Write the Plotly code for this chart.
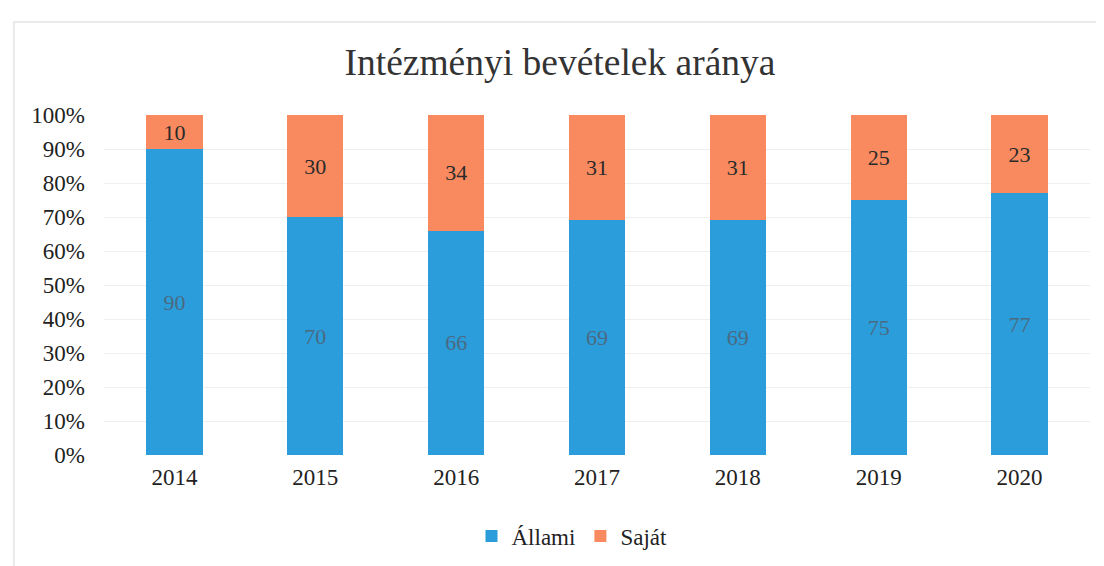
import plotly.graph_objects as go

years = ["2014", "2015", "2016", "2017", "2018", "2019", "2020"]
allami = [90, 70, 66, 69, 69, 75, 77]
sajat = [10, 30, 34, 31, 31, 25, 23]

W, H = 1104, 566
L, R, T, B = 96, 22, 107, 119
pw, ph = W - L - R, H - T - B

def px_x(p):
    return (p - L) / pw

def px_y(p):
    return (H - B - p) / ph

fig = go.Figure()
fig.add_trace(go.Bar(
    x=years, y=allami, name="Állami",
    marker=dict(color="#2b9ddb", line=dict(width=0)),
    text=[str(v) for v in allami], textposition="inside", insidetextanchor="middle",
    textfont=dict(family="Liberation Serif", size=22, color="#4a6a82"),
))
fig.add_trace(go.Bar(
    x=years, y=sajat, name="Saját",
    marker=dict(color="#f98a60", line=dict(width=0)),
    text=[str(v) for v in sajat], textposition="inside", insidetextanchor="middle",
    textfont=dict(family="Liberation Serif", size=22, color="#2a2a2a"),
))

fig.update_layout(
    barmode="stack",
    bargap=0.6,
    width=W, height=H,
    margin=dict(l=L, r=R, t=T, b=B),
    paper_bgcolor="white", plot_bgcolor="white",
    font=dict(family="Liberation Serif", size=23, color="#222222"),
    title=dict(text="Intézményi bevételek aránya", x=0.5, xref="container", xanchor="center",
               y=1 - 54 / H, yanchor="middle",
               font=dict(family="Liberation Serif", size=37.5, color="#333333")),
    legend=dict(orientation="h", x=px_x(564), xanchor="center", y=px_y(528), yanchor="middle",
                font=dict(family="Liberation Serif", size=23, color="#222222"),
                itemwidth=30, traceorder="normal"),
    uniformtext=dict(mode=False),
    shapes=[dict(type="rect", xref="paper", yref="paper",
                 x0=px_x(6), x1=px_x(1110), y0=px_y(14), y1=px_y(580),
                 line=dict(color="#e3e3e3", width=1.5), layer="below")],
)
fig.update_xaxes(showgrid=False, showline=False, ticks="", tickfont=dict(size=23),
                 ticklabelstandoff=6)
fig.update_yaxes(range=[0, 100], dtick=10, ticksuffix="%", showgrid=True,
                 gridcolor="#efefef", gridwidth=1, zeroline=False, showline=False,
                 tickfont=dict(size=23), ticklabelstandoff=18)

fig.write_html("out.html")
